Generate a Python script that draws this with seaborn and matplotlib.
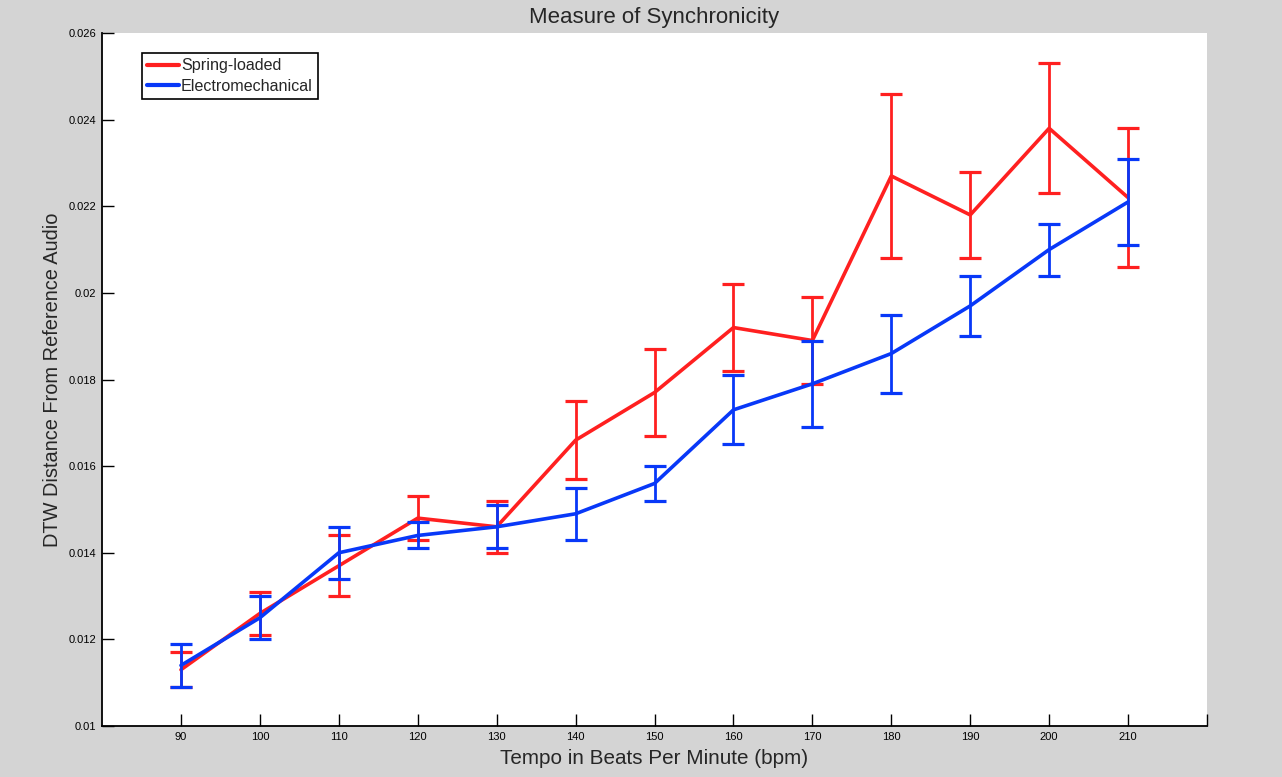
import numpy as np
import pandas as pd
import matplotlib
matplotlib.use("Agg")
import matplotlib.pyplot as plt
import seaborn as sns

# ---- data ----
tempo = [90, 100, 110, 120, 130, 140, 150, 160, 170, 180, 190, 200, 210]
spring_mean = [0.0113, 0.0126, 0.0137, 0.0148, 0.0146, 0.0166, 0.0177, 0.0192, 0.0189, 0.0227, 0.0218, 0.0238, 0.0222]
spring_err = [0.0004, 0.0005, 0.0007, 0.0005, 0.0006, 0.0009, 0.0010, 0.0010, 0.0010, 0.0019, 0.0010, 0.0015, 0.0016]
electro_mean = [0.0114, 0.0125, 0.0140, 0.0144, 0.0146, 0.0149, 0.0156, 0.0173, 0.0179, 0.0186, 0.0197, 0.0210, 0.0221]
electro_err = [0.0005, 0.0005, 0.0006, 0.0003, 0.0005, 0.0006, 0.0004, 0.0008, 0.0010, 0.0009, 0.0007, 0.0006, 0.0010]
series_names = ["Spring-loaded", "Electromechanical"]
x_ticks = [90, 100, 110, 120, 130, 140, 150, 160, 170, 180, 190, 200, 210, 220]
x_ticklabels = ["90", "100", "110", "120", "130", "140", "150", "160", "170", "180", "190", "200", "210", ""]
y_ticks = [0.010, 0.012, 0.014, 0.016, 0.018, 0.020, 0.022, 0.024, 0.026]
y_ticklabels = ["0.01", "0.012", "0.014", "0.016", "0.018", "0.02", "0.022", "0.024", "0.026"]

sns.set_theme(style="ticks")
plt.rcParams["font.family"] = ["Liberation Sans", "DejaVu Sans"]

colors = ["#ff2020", "#0838f8"]
bg = "#d4d4d4"

fig = plt.figure(figsize=(12.82, 7.77), dpi=100, facecolor=bg)
ax = fig.add_axes([0.0796, 0.0656, 0.8619, 0.8919])
ax.set_facecolor("white")

df = pd.concat([
    pd.DataFrame({"tempo": tempo, "dist": spring_mean, "err": spring_err, "series": series_names[0]}),
    pd.DataFrame({"tempo": tempo, "dist": electro_mean, "err": electro_err, "series": series_names[1]}),
], ignore_index=True)

for i, name in enumerate(series_names):
    sub = df[df["series"] == name]
    ax.errorbar(sub["tempo"], sub["dist"], yerr=sub["err"], fmt="none",
                ecolor=colors[i], elinewidth=2.0, capsize=8, capthick=2.3,
                zorder=2 + 2 * i)
    sns.lineplot(data=sub, x="tempo", y="dist", color=colors[i], linewidth=2.6,
                 ax=ax, label=name, zorder=3 + 2 * i, estimator=None)

ax.set_xlim(80, 220)
ax.set_ylim(0.010, 0.026)
ax.set_xticks(x_ticks)
ax.set_xticklabels(x_ticklabels)
ax.set_yticks(y_ticks)
ax.set_yticklabels(y_ticklabels)
ax.tick_params(direction="in", length=8.6, width=1.0, labelsize=8, colors="black", pad=4)

for s in ["top", "right"]:
    ax.spines[s].set_visible(False)
for s in ["left", "bottom"]:
    ax.spines[s].set_color("black")
    ax.spines[s].set_linewidth(1.3)

ax.set_title("Measure of Synchronicity", fontsize=16, pad=7)
ax.set_xlabel("Tempo in Beats Per Minute (bpm)", fontsize=14.9, labelpad=5)
ax.set_ylabel("DTW Distance From Reference Audio", fontsize=14.4, labelpad=5)

leg = ax.legend(loc="upper left", bbox_to_anchor=(0.036, 0.971), borderaxespad=0,
                fontsize=11.6, handlelength=2.0, handletextpad=0.1, labelspacing=0.33,
                borderpad=0.33, fancybox=False, framealpha=1, edgecolor="black")
leg.get_frame().set_linewidth(1.2)
for h in leg.get_lines():
    h.set_linewidth(3)

fig.savefig("out.png", dpi=100, facecolor=bg)
